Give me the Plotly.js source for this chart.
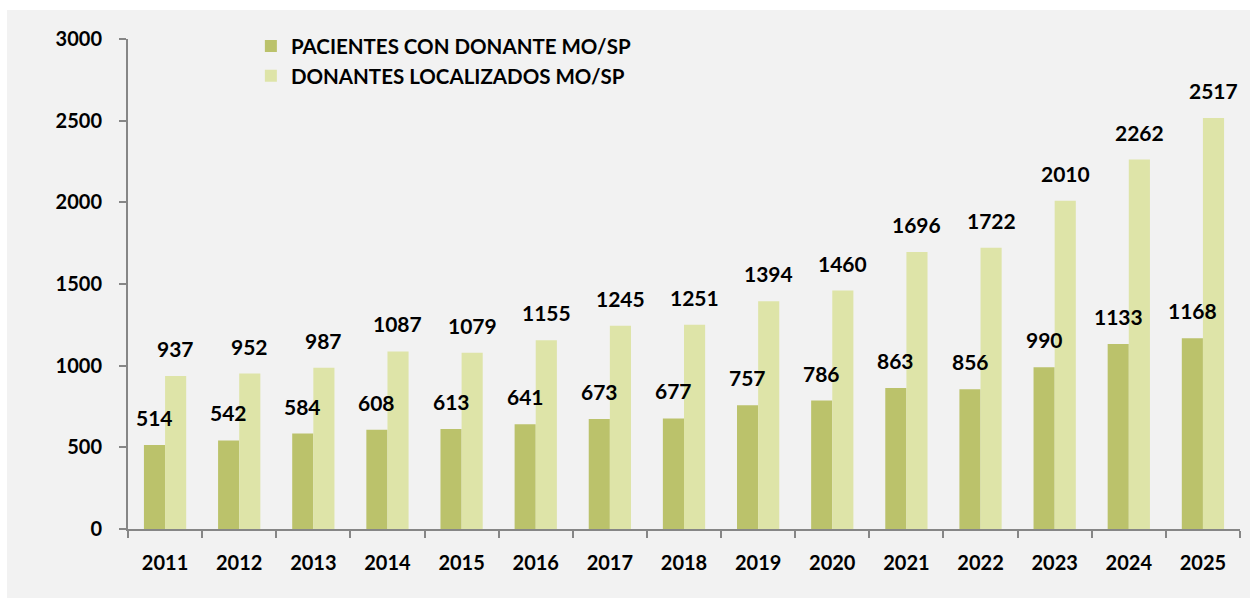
<!DOCTYPE html>
<html>
<head>
<meta charset="utf-8">
<script src="https://cdn.plot.ly/plotly-3.0.1.min.js"></script>
<style>
  html, body { margin: 0; padding: 0; background: #ffffff; }
  #chart { position: absolute; left: 7px; top: 10px; width: 1243px; height: 588px; }
</style>
</head>
<body>
<div id="chart"></div>
<script>
const years = ['2011','2012','2013','2014','2015','2016','2017','2018','2019','2020','2021','2022','2023','2024','2025'];
const pacientes = [514, 542, 584, 608, 613, 641, 673, 677, 757, 786, 863, 856, 990, 1133, 1168];
const donantes = [937, 952, 987, 1087, 1079, 1155, 1245, 1251, 1394, 1460, 1696, 1722, 2010, 2262, 2517];
const seriesNames = ['PACIENTES CON DONANTE MO/SP', 'DONANTES LOCALIZADOS MO/SP'];
const yTicks = [0, 500, 1000, 1500, 2000, 2500, 3000];

const FONT = 'Lato, "Open Sans", sans-serif';
const darkColor = '#bbc26b';
const lightColor = '#dee4a8';

const traces = [
  { type: 'bar', name: seriesNames[0], x: years, y: pacientes, marker: { color: darkColor }, hoverinfo: 'x+y' },
  { type: 'bar', name: seriesNames[1], x: years, y: donantes, marker: { color: lightColor }, hoverinfo: 'x+y' }
];

const annotations = [];
years.forEach((yr, i) => {
  annotations.push({ x: i, y: pacientes[i], xref: 'x', yref: 'y', text: String(pacientes[i]), showarrow: false,
    xshift: -10.5, yshift: 13, yanchor: 'bottom', xanchor: 'center',
    font: { family: FONT, size: 21, color: '#000', weight: 'bold' } });
  annotations.push({ x: i, y: donantes[i], xref: 'x', yref: 'y', text: String(donantes[i]), showarrow: false,
    xshift: 10.5, yshift: 13, yanchor: 'bottom', xanchor: 'center',
    font: { family: FONT, size: 21, color: '#000', weight: 'bold' } });
});

const layout = {
  width: 1243, height: 588,
  paper_bgcolor: '#f2f2f2', plot_bgcolor: '#f2f2f2',
  margin: { l: 121, r: 10, t: 29, b: 69 },
  barmode: 'group', bargap: 0.43, bargroupgap: 0,
  font: { family: FONT, color: '#000' },
  showlegend: true,
  legend: {
    x: 0.1105, y: 1.026, xanchor: 'left', yanchor: 'top',
    bgcolor: 'rgba(0,0,0,0)',
    font: { family: FONT, size: 20.5, color: '#000', weight: 'bold' },
    tracegroupgap: 0
  },
  xaxis: {
    type: 'category',
    range: [-0.5, years.length - 0.5],
    showline: true, linecolor: '#868686', linewidth: 2,
    ticks: 'outside', tickson: 'boundaries', ticklen: 7, tickwidth: 2, tickcolor: '#868686',
    tickfont: { family: FONT, size: 20, color: '#000', weight: 'bold' },
    tickangle: 0,
    ticklabelstandoff: 15,
    showgrid: false, zeroline: false, fixedrange: true
  },
  yaxis: {
    range: [0, 3000], tickvals: yTicks,
    showline: true, linecolor: '#868686', linewidth: 2,
    ticks: 'outside', ticklen: 7, tickwidth: 2, tickcolor: '#868686',
    tickfont: { family: FONT, size: 20, color: '#000', weight: 'bold' },
    ticklabelstandoff: 13,
    showgrid: false, zeroline: false, fixedrange: true
  },
  annotations: annotations
};

Plotly.newPlot('chart', traces, layout, { staticPlot: true, displayModeBar: false });
</script>
</body>
</html>
